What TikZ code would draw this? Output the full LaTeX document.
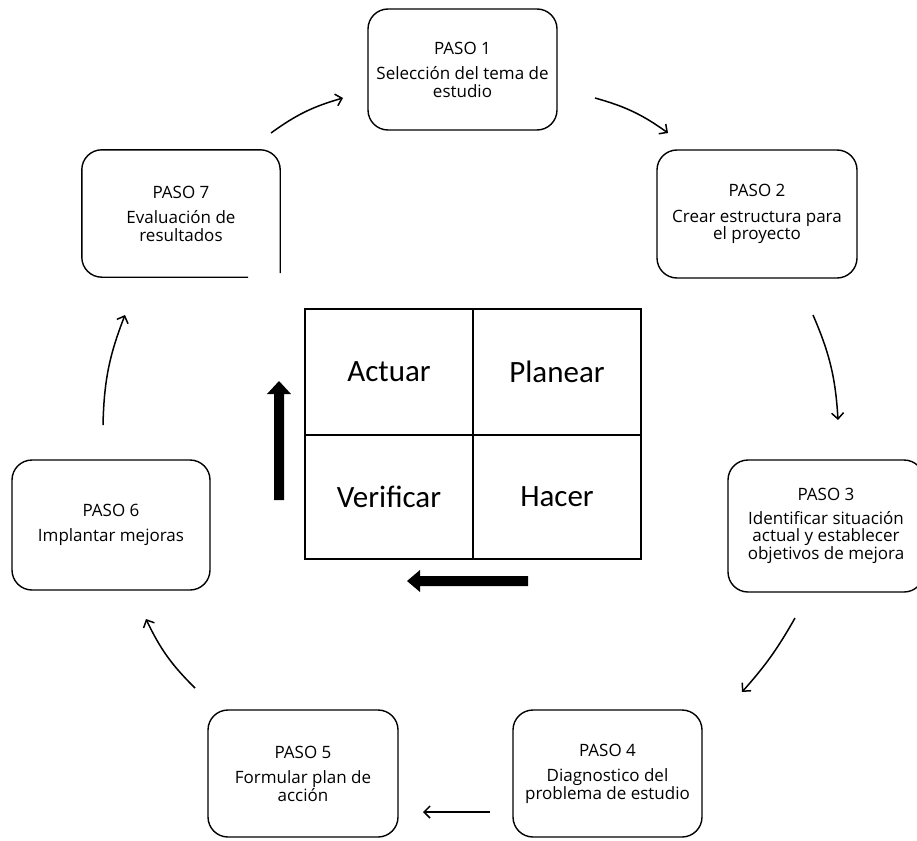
\documentclass[tikz,border=0pt]{standalone}
\usepackage{fontspec}
\newfontfamily\boxfont{Open Sans}
\newfontfamily\gridfont{Carlito}
\usetikzlibrary{arrows.meta,calc}
\tikzset{
  stepbox/.style={draw, line width=1.4pt, rounded corners=20pt, align=center, inner sep=0pt,
    font=\boxfont\fontsize{17}{17.5}\selectfont},
  openbox/.style={align=center, inner sep=0pt, font=\boxfont\fontsize{17}{17.5}\selectfont},
  cyc/.style={line width=1.5pt, -{Straight Barb[length=6pt,width=12pt,line width=1.5pt]}},
  cell/.style={font=\gridfont\fontsize{31}{34}\selectfont},
  grid/.style={line width=1.6pt},
  bigarrow/.style={fill=black}
}
\begin{document}
\begin{tikzpicture}[x=1pt,y=-1pt]
\clip (0,0) rectangle (917,840);
\fill[white] (0,0) rectangle (917,840);
% step boxes
\node[stepbox, minimum width=189pt, minimum height=121pt] (p1) at (462.5,69.5) {PASO 1\\[8pt]Selección del tema de\\estudio};
\node[stepbox, minimum width=200pt, minimum height=128pt] (p2) at (757,214) {PASO 2\\[8pt]Crear estructura para\\el proyecto};
\node[stepbox, minimum width=196pt, minimum height=132pt] (p3) at (826,526) {PASO 3\\[6pt]Identificar situación\\actual y establecer\\objetivos de mejora};
\node[stepbox, minimum width=189pt, minimum height=127pt] (p4) at (607.5,773.5) {PASO 4\\[8pt]Diagnostico del\\problema de estudio};
\node[stepbox, minimum width=190pt, minimum height=127pt] (p5) at (303,773.5) {PASO 5\\[8pt]Formular plan de\\acción};
\node[stepbox, minimum width=198pt, minimum height=130pt] (p6) at (111,525) {PASO 6\\[8pt]Implantar mejoras};
\node[openbox, minimum width=198pt, minimum height=127pt] (p7) at (181,213.5) {PASO 7\\[8pt]Evaluación de\\resultados};
\draw[line width=1.4pt, rounded corners=20pt]
  ($(p7.south east)+(-32,0)$) -- (p7.south west) -- (p7.north west) -- (p7.north east) -- ($(p7.south east)+(0,-4)$);
% grid
\node[minimum width=168pt, minimum height=126pt, inner sep=0pt] (act) at (389,372) {};
\node[minimum width=168pt, minimum height=126pt, inner sep=0pt] (pla) at (557,372) {};
\node[minimum width=168pt, minimum height=124pt, inner sep=0pt] (ver) at (389,497) {};
\node[minimum width=168pt, minimum height=124pt, inner sep=0pt] (hac) at (557,497) {};
\node[cell] at (act) {Actuar};
\node[cell] at (pla) {Planear};
\node[cell] at (ver) {Verificar};
\node[cell] at (hac) {Hacer};
\draw[grid] (305,309) rectangle (641,559);
\draw[grid] (473,309) -- (473,559);
\draw[grid] (305,435) -- (641,435);
% thick arrows
\fill[bigarrow] (274,500) -- (284,500) -- (284,394) -- (291,394) -- (279,381) -- (267,394) -- (274,394) -- cycle;
\fill[bigarrow] (528,576) -- (528,586) -- (420,586) -- (420,592) -- (407,581) -- (420,570) -- (420,576) -- cycle;
% cycle arrows
\coordinate (s71) at (271,133); \coordinate (e71) at (343,98);
\coordinate (s12) at (595,98);  \coordinate (e12) at (668,133);
\coordinate (s23) at (813,315); \coordinate (e23) at (838,420);
\coordinate (s34) at (795,618); \coordinate (e34) at (742,692);
\coordinate (s45) at (490,812); \coordinate (e45) at (423,812);
\coordinate (s56) at (195,688); \coordinate (e56) at (146,619);
\coordinate (s67) at (103,425); \coordinate (e67) at (125,315);
\draw[cyc] (s71) to[bend left=10] (e71);
\draw[cyc] (s12) to[bend left=10] (e12);
\draw[cyc] (s23) to[bend left=10] (e23);
\draw[cyc] (s34) to[bend left=6] (e34);
\draw[cyc] (s45) to (e45);
\draw[cyc] (s56) to[bend left=10] (e56);
\draw[cyc] (s67) to[bend left=10] (e67);
\end{tikzpicture}
\end{document}
